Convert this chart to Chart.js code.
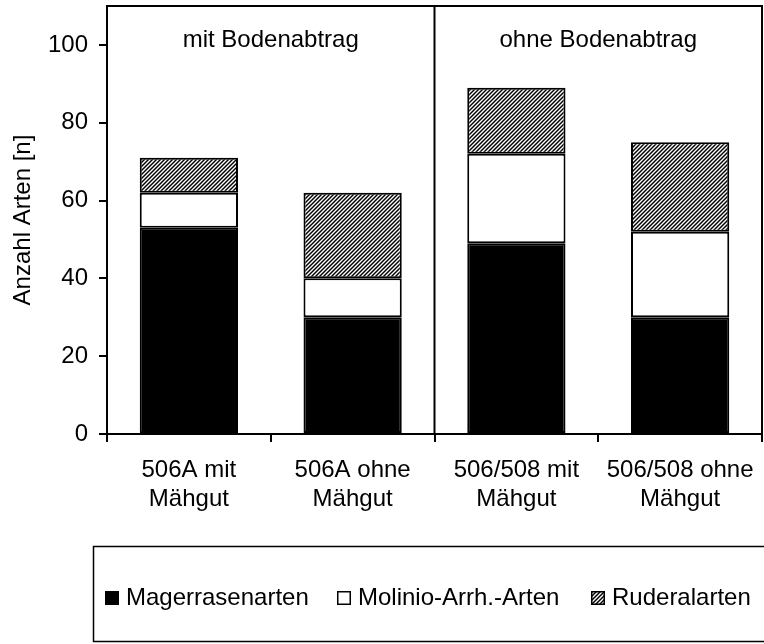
<!DOCTYPE html>
<html>
<head>
<meta charset="utf-8">
<script src="https://cdn.jsdelivr.net/npm/chart.js@4"></script>
<style>
  html, body { margin: 0; padding: 0; background: #fff; }
  #wrap { width: 764px; height: 644px; }
</style>
</head>
<body>
<div id="wrap"><canvas id="chart1" width="764" height="644"></canvas></div>
<script>
const categories = [['506A mit', 'Mähgut'], ['506A ohne', 'Mähgut'], ['506/508 mit', 'Mähgut'], ['506/508 ohne', 'Mähgut']];
const magerrasen = [53, 30, 49, 30];
const molinio = [9, 10, 23, 22];
const ruderal = [9, 22, 17, 23];
const seriesNames = ['Magerrasenarten', 'Molinio-Arrh.-Arten', 'Ruderalarten'];
const panelTitles = ['mit Bodenabtrag', 'ohne Bodenabtrag'];
const yTicks = [0, 20, 40, 60, 80, 100];
const yTitle = 'Anzahl Arten [n]';

const FONT = '"Liberation Sans", Arial, Helvetica, sans-serif';

// diagonal hatch for Ruderalarten
const makeHatch = () => {
    const c = document.createElement('canvas');
    c.width = 4;
    c.height = 4;
    const g = c.getContext('2d');
    g.fillStyle = '#fff';
    g.fillRect(0, 0, 4, 4);
    g.strokeStyle = '#000';
    g.lineWidth = 1.45;
    g.beginPath();
    g.moveTo(-1, 5); g.lineTo(5, -1);
    g.moveTo(-1, 1); g.lineTo(1, -1);
    g.moveTo(3, 5); g.lineTo(5, 3);
    g.stroke();
    return g.createPattern(c, 'repeat');
};
const hatch = makeHatch();

// frame, divider, panel titles and boxed legend
const extras = {
    id: 'extras',
    afterDraw(chart) {
        const ctx = chart.ctx;
        const area = chart.chartArea;
        const x = chart.scales.x;
        ctx.save();
        ctx.strokeStyle = '#000';
        ctx.lineWidth = 2;
        ctx.beginPath();
        ctx.moveTo(area.left, area.top);
        ctx.lineTo(area.right, area.top);
        ctx.lineTo(area.right, area.bottom);
        const mid = (x.getPixelForValue(1) + x.getPixelForValue(2)) / 2;
        ctx.moveTo(mid, area.top);
        ctx.lineTo(mid, area.bottom);
        ctx.stroke();

        ctx.fillStyle = '#000';
        ctx.font = '24px ' + FONT;
        ctx.textAlign = 'center';
        ctx.textBaseline = 'alphabetic';
        ctx.fillText(panelTitles[0], (area.left + mid) / 2, 47);
        ctx.fillText(panelTitles[1], (mid + area.right) / 2, 47);

        // legend box
        ctx.lineWidth = 1.5;
        ctx.strokeRect(93.5, 546.5, 700, 95);
        const boxX = [105, 337, 591];
        const sets = chart.data.datasets;
        ctx.textAlign = 'left';
        ctx.textBaseline = 'middle';
        for (let i = 0; i < sets.length; i++) {
            ctx.fillStyle = sets[i].backgroundColor;
            ctx.fillRect(boxX[i], 591, 14, 14);
            ctx.strokeRect(boxX[i] + 0.75, 591.75, 12.5, 12.5);
            ctx.fillStyle = '#000';
            ctx.fillText(sets[i].label, boxX[i] + 21, 598);
        }
        ctx.restore();
    }
};

const ds = (label, data, bg) => ({
    label: label,
    data: data,
    backgroundColor: bg,
    borderColor: '#000',
    borderWidth: 2,
    borderSkipped: false,
    barPercentage: 0.6,
    categoryPercentage: 1
});

const config = {
    type: 'bar',
    data: {
        labels: categories,
        datasets: [
            ds(seriesNames[0], magerrasen, '#000'),
            ds(seriesNames[1], molinio, '#fff'),
            ds(seriesNames[2], ruderal, hatch)
        ]
    },
    options: {
        responsive: false,
        animation: false,
        layout: { padding: { top: 6, right: 2, left: 0, bottom: 0 } },
        plugins: {
            legend: { display: false },
            tooltip: { enabled: false }
        },
        scales: {
            x: {
                stacked: true,
                afterFit: (s) => { s.height = 210; s.paddingLeft = 0; s.paddingRight = 0; },
                border: { display: true, color: '#000', width: 2 },
                grid: { display: true, offset: true, drawOnChartArea: false, drawTicks: true, tickLength: 8, color: '#000', lineWidth: 2 },
                ticks: { color: '#000', font: { size: 24, family: FONT }, padding: 14, maxRotation: 0, autoSkip: false }
            },
            y: {
                stacked: true,
                min: 0,
                max: 110,
                afterFit: (s) => { s.width = 107; s.paddingTop = 0; s.paddingBottom = 0; },
                afterBuildTicks: (s) => { s.ticks = yTicks.map(v => ({ value: v })); },
                border: { display: true, color: '#000', width: 2 },
                grid: { display: true, drawOnChartArea: false, drawTicks: true, tickLength: 8, color: '#000', lineWidth: 2 },
                ticks: { color: '#000', font: { size: 24, family: FONT }, padding: 11 },
                title: { display: true, text: yTitle, color: '#000', font: { size: 24, family: FONT }, padding: { top: 9, bottom: 0 } }
            }
        }
    },
    plugins: [extras]
};

const ctx = document.getElementById('chart1').getContext('2d');
const plot = new Chart(ctx, config);
</script>
</body>
</html>
